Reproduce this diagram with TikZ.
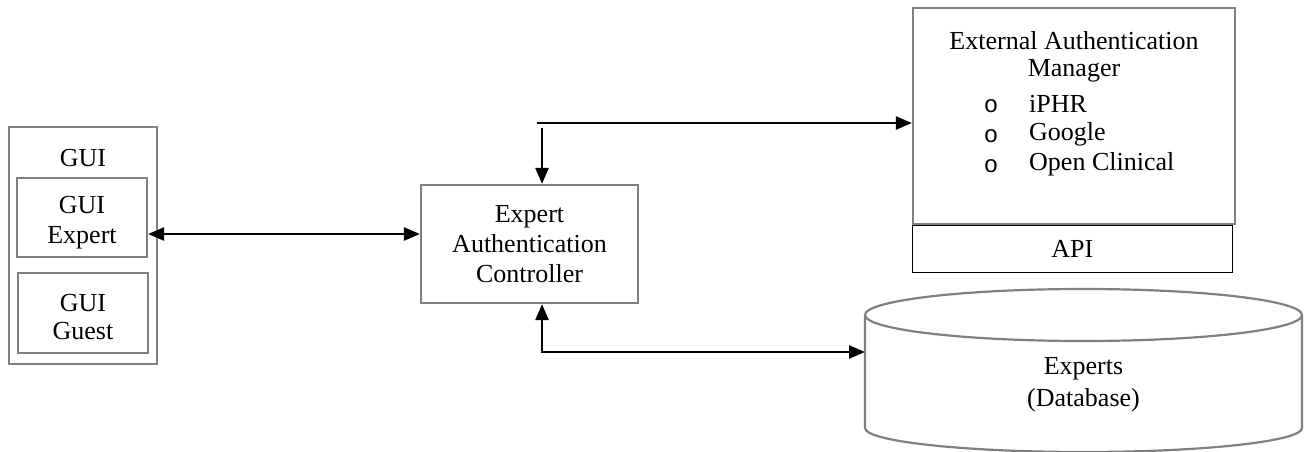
\documentclass[tikz,border=0pt]{standalone}
\usepackage{fontspec}
\setmainfont{Liberation Serif}
\newfontfamily\bulletfont{Liberation Mono}
\usetikzlibrary{arrows.meta,calc}
\tikzset{
  graybox/.style={draw=black!50, line width=2.2pt, inner sep=0pt},
  thinbox/.style={draw=black, line width=1pt, inner sep=0pt},
  lbl/.style={font=\fontsize{26}{30}\selectfont, align=center, inner sep=0pt},
  tip/.tip={Triangle[length=16pt,width=13pt]},
  flow/.style={line width=2.5pt, -tip},
  flow2/.style={line width=2.5pt, tip-tip},
}
\begin{document}
\begin{tikzpicture}[x=1pt, y=-1pt]
\useasboundingbox (0,0) rectangle (1307,452);

% GUI group
\draw[graybox] (9,127) rectangle (157,364);
\node[lbl] (gui) at (83,158) {GUI};
\node[graybox, minimum width=130pt, minimum height=79pt] (guiexp) at (82,217.5) {};
\node[lbl] at ($(guiexp.center)+(0,5)$) {GUI\\Expert};
\node[graybox, minimum width=130pt, minimum height=80pt] (guiguest) at (83,313) {};
\node[lbl, font=\fontsize{26}{28}\selectfont] at ($(guiguest.center)+(0,4)$) {GUI\\Guest};

% controller
\node[graybox, minimum width=217pt, minimum height=118pt] (ctrl) at (529.5,244) {};
\node[lbl] at (ctrl.center) {Expert\\Authentication\\Controller};

% external manager with API strip
\node[graybox, minimum width=322pt, minimum height=216pt] (ext) at (1074,116) {};
\node[thinbox, minimum width=320pt, minimum height=47pt, anchor=north west] (api) at (ext.south west) {};
\node[lbl] at (api.center) {API};
\node[lbl, font=\fontsize{26}{27}\selectfont] (exttitle) at (1074,56.5) {External Authentication\\Manager};
\node[lbl, anchor=west] (b1) at (1029,104) {iPHR};
\node[lbl, anchor=west] (b2) at (1029,134) {Google};
\node[lbl, anchor=west] (b3) at (1029,164) {Open Clinical};
\foreach \b in {b1,b2,b3}
  \node[font=\bulletfont\fontsize{24}{26}\selectfont, inner sep=0pt] at ($(\b.west)+(-38,2)$) {o};

% database cylinder
\draw[draw=black!50, line width=2.2pt, fill=white]
  (865,315) -- (865,428) arc[start angle=180, end angle=0, x radius=218.5, y radius=24]
  -- (1302,315);
\draw[draw=black!50, line width=2.2pt] (1083.5,315) ellipse[x radius=218.5, y radius=26];
\coordinate (dbleft) at (865,352);
\node[lbl, font=\fontsize{26}{32}\selectfont] (db) at (1083.5,385) {Experts\\(Database)};

% connectors
\coordinate (split) at (537,123);
\coordinate (drop) at (542,128);
\coordinate (corner) at (542,352);
\draw[flow2] (guiexp.east |- 0,234) -- (ctrl.west |- 0,234);
\draw[flow] (split) -- (ext.west |- split);
\draw[flow] (drop) -- (ctrl.north -| drop);
\draw[flow2] (ctrl.south -| corner) -- (corner) -- (dbleft);
\end{tikzpicture}
\end{document}
